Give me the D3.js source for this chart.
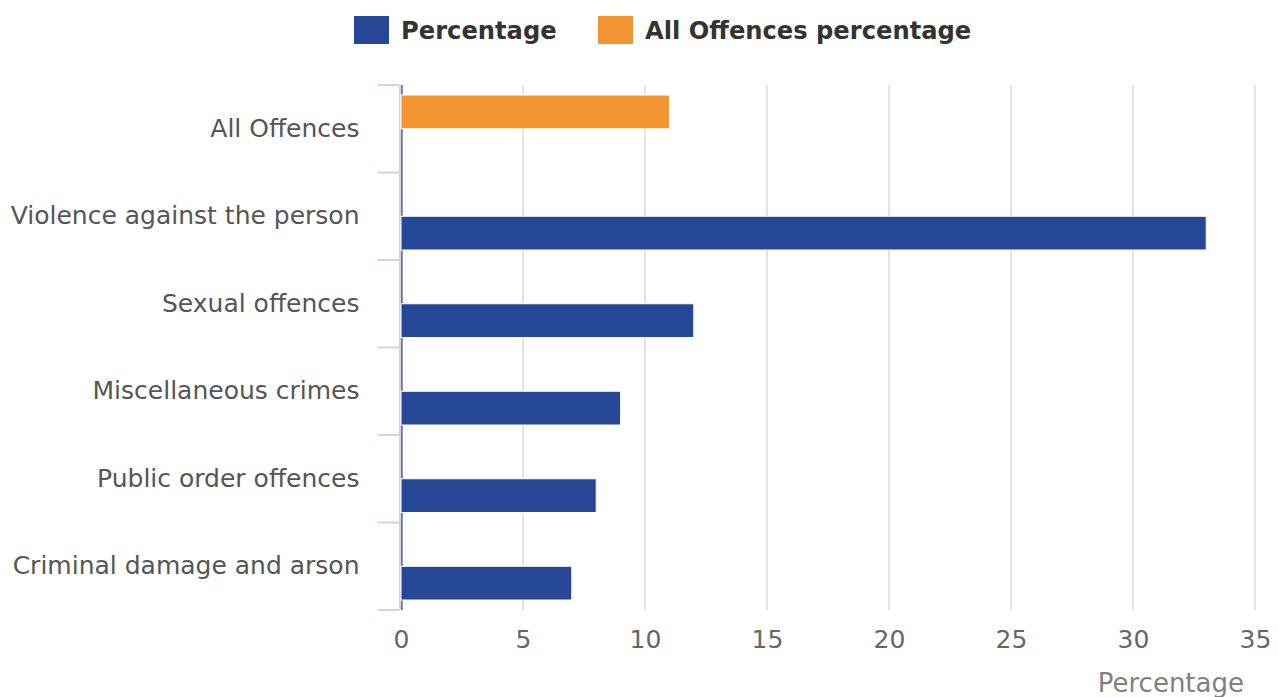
<!DOCTYPE html>
<html><head><meta charset="utf-8">
<script src="https://cdn.jsdelivr.net/npm/d3@7"></script>
<style>html,body{margin:0;padding:0;background:#fff;}svg{display:block;font-family:"DejaVu Sans",sans-serif;}</style>
</head><body>
<svg id="c" width="1279" height="697"></svg>
<script>
const categories = ["All Offences","Violence against the person","Sexual offences","Miscellaneous crimes","Public order offences","Criminal damage and arson"];
const seriesNames = ["Percentage","All Offences percentage"];
const percentage = [null,33,12,9,8,7];
const allOffencesPercentage = [11,null,null,null,null,null];
const xTicks = [0,5,10,15,20,25,30,35];
const colors = {"Percentage":"#264796","All Offences percentage":"#f49430"};

const svg = d3.select("#c");
const m = {left:401, right:1255, top:85, bottom:610};
const x = d3.scaleLinear().domain([0,35]).range([m.left,m.right]);
const y = d3.scaleBand().domain(categories).range([m.top,m.bottom]).padding(0);
const slotOrder = ["All Offences percentage","Percentage"];
const gp = 10/87.5;
const inner = d3.scaleBand().domain(slotOrder).range([y.bandwidth()*gp, y.bandwidth()*(1-gp)]).padding(0);

// gridlines
const grid = svg.append("g");
grid.selectAll("line").data(xTicks.filter(d=>d>0)).join("line")
  .attr("x1",d=>x(d)).attr("x2",d=>x(d)).attr("y1",m.top).attr("y2",m.bottom)
  .attr("stroke","#d8d8d8").attr("stroke-width",1.5);
grid.append("line").attr("x1",x(0)+0.8).attr("x2",x(0)+0.8).attr("y1",m.top).attr("y2",m.bottom)
  .attr("stroke","#7a7a7a").attr("stroke-width",2);

// y axis
const yAxis = d3.axisLeft(y).tickSize(0).tickPadding(40);
const yg = svg.append("g").attr("transform",`translate(${m.left-1.5},0)`).call(yAxis);
yg.select(".domain").attr("stroke","#ccd6eb").attr("stroke-width",2);
yg.selectAll(".tick text").attr("font-size",25).attr("fill","#555").attr("font-family","DejaVu Sans");
yg.selectAll(".boundary").data(d3.range(categories.length+1)).join("line").attr("class","boundary")
  .attr("x1",-22).attr("x2",0)
  .attr("y1",i=>m.top+i*y.step()).attr("y2",i=>m.top+i*y.step())
  .attr("stroke","#ccd6eb").attr("stroke-width",2);

// bars
const rows = [];
categories.forEach((c,i)=>{
  if(percentage[i]!=null) rows.push({cat:c,s:"Percentage",v:percentage[i]});
  if(allOffencesPercentage[i]!=null) rows.push({cat:c,s:"All Offences percentage",v:allOffencesPercentage[i]});
});
svg.append("g").selectAll("rect").data(rows).join("rect")
  .attr("x",x(0)).attr("y",d=>y(d.cat)+inner(d.s))
  .attr("width",d=>x(d.v)-x(0)).attr("height",inner.bandwidth())
  .attr("fill",d=>colors[d.s]).attr("stroke","#fff").attr("stroke-width",1);

// x axis
const xAxis = d3.axisBottom(x).tickValues(xTicks).tickSize(0).tickPadding(20);
const xg = svg.append("g").attr("transform",`translate(0,${m.bottom})`).call(xAxis);
xg.select(".domain").remove();
xg.selectAll(".tick text").attr("font-size",25).attr("fill","#666").attr("font-family","DejaVu Sans");
svg.append("text").attr("x",1244).attr("y",692).attr("text-anchor","end")
  .attr("font-size",26).attr("fill","#808080").text("Percentage");

// legend
const legend = [{name:"Percentage",x:354,tx:401},{name:"All Offences percentage",x:598,tx:645}];
const lg = svg.append("g");
legend.forEach(l=>{
  lg.append("rect").attr("x",l.x).attr("y",16).attr("width",35).attr("height",28).attr("fill",colors[l.name]);
  lg.append("text").attr("x",l.tx).attr("y",39).attr("font-size",24.2).attr("font-weight","bold")
    .attr("fill","#333").text(l.name);
});
</script>
</body></html>
